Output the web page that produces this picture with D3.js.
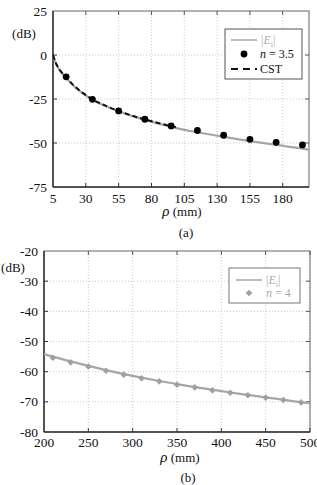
<!DOCTYPE html>
<html>
<head>
<meta charset="utf-8">
<script src="https://cdn.jsdelivr.net/npm/d3@7"></script>
<style>
  html, body { margin: 0; padding: 0; background: #fff; }
  svg { display: block; }
  svg text { font-family: "Liberation Serif", "Times New Roman", "DejaVu Serif", serif; }
</style>
</head>
<body>
<div id="chart"></div>
<script>
// Panel (a) data
const rhoLineA = [5, 7, 10, 15, 20, 25, 30, 35, 45, 55, 65, 75, 85, 95, 115, 135, 155, 175, 195, 200];
const eiLineA = [0, -4.5, -8.5, -13, -17, -20.3, -23, -25.4, -29, -32, -34.6, -36.9, -38.9, -40.8, -43.9, -46.5, -48.9, -51.1, -53.2, -53.8];
const rhoCst = [5, 7, 10, 15, 20, 25, 30, 35, 45, 55, 65, 75, 85, 95, 100];
const eiCst = [0, -4.3, -8.3, -12.6, -16.7, -20, -22.8, -25.2, -28.8, -31.8, -34.4, -36.6, -38.6, -40.4, -41.2];
const rhoDotsA = [15, 35, 55, 75, 95, 115, 135, 155, 175, 195];
const eiDotsA = [-12.4, -25.2, -31.8, -36.5, -40.3, -42.9, -45.6, -47.9, -49.6, -51.1];
const xTicksA = [5, 30, 55, 80, 105, 130, 155, 180];
const yTicksA = [-75, -50, -25, 0, 25];

// Panel (b) data
const rhoLineB = [200, 230, 250, 270, 290, 310, 330, 350, 370, 390, 410, 430, 450, 470, 490, 500];
const eiLineB = [-54.2, -56.6, -58.1, -59.5, -60.8, -62, -63.1, -64.1, -65.1, -66, -66.9, -67.7, -68.5, -69.3, -70.1, -70.4];
const rhoDiamB = [210, 230, 250, 270, 290, 310, 330, 350, 370, 390, 410, 430, 450, 470, 490];
const eiDiamB = [-55.4, -56.9, -58.3, -59.7, -61, -62.2, -63.2, -64.3, -65.2, -66.2, -67, -67.8, -68.6, -69.4, -70.2];
const xTicksB = [200, 250, 300, 350, 400, 450, 500];
const yTicksB = [-80, -70, -60, -50, -40, -30, -20];

const W = 317, H = 485;
const grayLine = "#a6a6a6";
const serif = "'Liberation Serif', 'Times New Roman', 'DejaVu Serif', serif";

const svg = d3.select("#chart").append("svg")
  .attr("width", W)
  .attr("height", H)
  .attr("font-family", serif);

// dessine un panneau : cadre, grille, ticks, labels
function drawPanel(p) {
  const x = d3.scaleLinear().domain(p.xDomain).range([p.left, p.right]);
  const y = d3.scaleLinear().domain(p.yDomain).range([p.bottom, p.top]);
  const g = svg.append("g");

  // grille pointillée
  g.selectAll(".gx").data(p.xTicks.slice(1)).enter().append("line")
    .attr("x1", d => x(d)).attr("x2", d => x(d))
    .attr("y1", p.top).attr("y2", p.bottom)
    .style("stroke", "#bdbdbd").style("stroke-width", 0.8)
    .style("stroke-dasharray", "1,2");
  g.selectAll(".gy").data(p.yTicks.slice(1, -1)).enter().append("line")
    .attr("x1", p.left).attr("x2", p.right)
    .attr("y1", d => y(d)).attr("y2", d => y(d))
    .style("stroke", "#bdbdbd").style("stroke-width", 0.8)
    .style("stroke-dasharray", "1,2");

  // cadre
  g.append("rect")
    .attr("x", p.left).attr("y", p.top)
    .attr("width", p.right - p.left).attr("height", p.bottom - p.top)
    .style("fill", "none").style("stroke", "#666").style("stroke-width", 1);
  g.append("line").attr("x1", p.left).attr("x2", p.left).attr("y1", p.top).attr("y2", p.bottom)
    .style("stroke", "#333").style("stroke-width", 1.5);
  g.append("line").attr("x1", p.left).attr("x2", p.right).attr("y1", p.bottom).attr("y2", p.bottom)
    .style("stroke", "#333").style("stroke-width", 1.5);

  // ticks intérieurs
  p.xTicks.slice(1).forEach(t => {
    g.append("line").attr("x1", x(t)).attr("x2", x(t)).attr("y1", p.bottom).attr("y2", p.bottom - 4).style("stroke", "#333");
    g.append("line").attr("x1", x(t)).attr("x2", x(t)).attr("y1", p.top).attr("y2", p.top + 4).style("stroke", "#555");
  });
  p.yTicks.slice(1, -1).forEach(t => {
    g.append("line").attr("x1", p.left).attr("x2", p.left + 4).attr("y1", y(t)).attr("y2", y(t)).style("stroke", "#333");
    g.append("line").attr("x1", p.right).attr("x2", p.right - 4).attr("y1", y(t)).attr("y2", y(t)).style("stroke", "#555");
  });

  // labels des ticks
  g.selectAll(".tx").data(p.xTicks).enter().append("text")
    .attr("x", d => x(d)).attr("y", p.bottom + p.tickDy)
    .attr("text-anchor", "middle")
    .attr("font-family", serif)
    .style("font-size", "13.5px").style("fill", "#111")
    .text(d => d);
  g.selectAll(".ty").data(p.yTicks).enter().append("text")
    .attr("x", p.left - 6).attr("y", d => y(d) + 4.5)
    .attr("text-anchor", "end")
    .attr("font-family", serif)
    .style("font-size", "13.5px").style("fill", "#111")
    .text(d => d);

  // unité
  g.append("text").attr("x", p.unitX).attr("y", p.unitY)
    .attr("text-anchor", "middle")
    .attr("font-family", serif)
    .style("font-size", "13px").style("fill", "#111")
    .text("(dB)");

  // titre de l'axe x
  const xl = g.append("text").attr("x", p.xLabelX).attr("y", p.xLabelY)
    .attr("text-anchor", "middle").attr("font-family", serif).style("fill", "#111");
  xl.append("tspan").style("font-size", "15px").style("font-style", "italic").text("ρ");
  xl.append("tspan").style("font-size", "13px").text(" (mm)");

  // (a) / (b)
  g.append("text").attr("x", p.capX).attr("y", p.capY)
    .attr("text-anchor", "middle")
    .attr("font-family", serif)
    .style("font-size", "13px").style("fill", "#111")
    .text(p.caption);

  return { x, y, g };
}

// Panneau (a)
const a = drawPanel({
  left: 53, right: 309, top: 11, bottom: 187,
  xDomain: [5, 200], yDomain: [-75, 25],
  xTicks: xTicksA, yTicks: yTicksA, tickDy: 16,
  unitX: 24, unitY: 38,
  xLabelX: 182, xLabelY: 216,
  capX: 186, capY: 237, caption: "(a)"
});

a.g.append("path")
  .attr("d", d3.line().curve(d3.curveMonotoneX)(rhoLineA.map((r, i) => [a.x(r), a.y(eiLineA[i])])))
  .style("fill", "none").style("stroke", grayLine).style("stroke-width", 2.2);
a.g.append("path")
  .attr("d", d3.line().curve(d3.curveMonotoneX)(rhoCst.map((r, i) => [a.x(r), a.y(eiCst[i])])))
  .style("fill", "none").style("stroke", "#111").style("stroke-width", 2)
  .style("stroke-dasharray", "5,3");
a.g.selectAll(".dot").data(rhoDotsA).enter().append("circle")
  .attr("cx", d => a.x(d))
  .attr("cy", (d, i) => a.y(eiDotsA[i]))
  .attr("r", 3.4)
  .style("fill", "#000");

// légende (a)
const legA = a.g.append("g").attr("font-family", serif);
legA.append("rect").attr("x", 225).attr("y", 29).attr("width", 77).attr("height", 50)
  .style("fill", "#fff").style("stroke", "#555").style("stroke-width", 1);
legA.append("line").attr("x1", 231).attr("x2", 257).attr("y1", 40).attr("y2", 40)
  .style("stroke", grayLine).style("stroke-width", 1.5);
const eA = legA.append("text").attr("x", 261).attr("y", 44).style("font-size", "12px").style("fill", "#aaa");
eA.append("tspan").text("|");
eA.append("tspan").style("font-style", "italic").text("E");
eA.append("tspan").attr("dy", 3).style("font-size", "8px").text("i");
eA.append("tspan").attr("dy", -3).text("|");
legA.append("circle").attr("cx", 244).attr("cy", 54).attr("r", 3.4).style("fill", "#000");
const nA = legA.append("text").attr("x", 260).attr("y", 58).style("font-size", "12px").style("fill", "#111");
nA.append("tspan").style("font-style", "italic").text("n");
nA.append("tspan").text(" = 3.5");
legA.append("line").attr("x1", 231).attr("x2", 257).attr("y1", 69).attr("y2", 69)
  .style("stroke", "#111").style("stroke-width", 1.8).style("stroke-dasharray", "7,5");
legA.append("text").attr("x", 260).attr("y", 73).style("font-size", "12px").style("fill", "#111").text("CST");

// Panneau (b)
const b = drawPanel({
  left: 44, right: 310, top: 251, bottom: 432,
  xDomain: [200, 500], yDomain: [-80, -20],
  xTicks: xTicksB, yTicks: yTicksB, tickDy: 15,
  unitX: 13, unitY: 272,
  xLabelX: 180, xLabelY: 462,
  capX: 188, capY: 482, caption: "(b)"
});

b.g.append("path")
  .attr("d", d3.line().curve(d3.curveMonotoneX)(rhoLineB.map((r, i) => [b.x(r), b.y(eiLineB[i])])))
  .style("fill", "none").style("stroke", grayLine).style("stroke-width", 2.2);
const diamond = d3.symbol().type(d3.symbolSquare).size(22);
b.g.selectAll(".diam").data(rhoDiamB).enter().append("path")
  .attr("d", diamond)
  .attr("transform", (d, i) => `translate(${b.x(d)},${b.y(eiDiamB[i])}) rotate(45)`)
  .style("fill", "#a0a0a0");

// légende (b)
const legB = b.g.append("g").attr("font-family", serif);
legB.append("rect").attr("x", 229).attr("y", 268).attr("width", 71).attr("height", 35)
  .style("fill", "#fff").style("stroke", "#777").style("stroke-width", 1);
legB.append("line").attr("x1", 236).attr("x2", 262).attr("y1", 280).attr("y2", 280)
  .style("stroke", grayLine).style("stroke-width", 1.5);
const eB = legB.append("text").attr("x", 266).attr("y", 284).style("font-size", "12px").style("fill", "#aaa");
eB.append("tspan").text("|");
eB.append("tspan").style("font-style", "italic").text("E");
eB.append("tspan").attr("dy", 3).style("font-size", "8px").text("i");
eB.append("tspan").attr("dy", -3).text("|");
legB.append("path").attr("d", diamond).attr("transform", "translate(249,293) rotate(45)").style("fill", "#a0a0a0");
const nB = legB.append("text").attr("x", 266).attr("y", 297).style("font-size", "12px").style("fill", "#aaa");
nB.append("tspan").style("font-style", "italic").text("n");
nB.append("tspan").text(" = 4");
</script>
</body>
</html>
